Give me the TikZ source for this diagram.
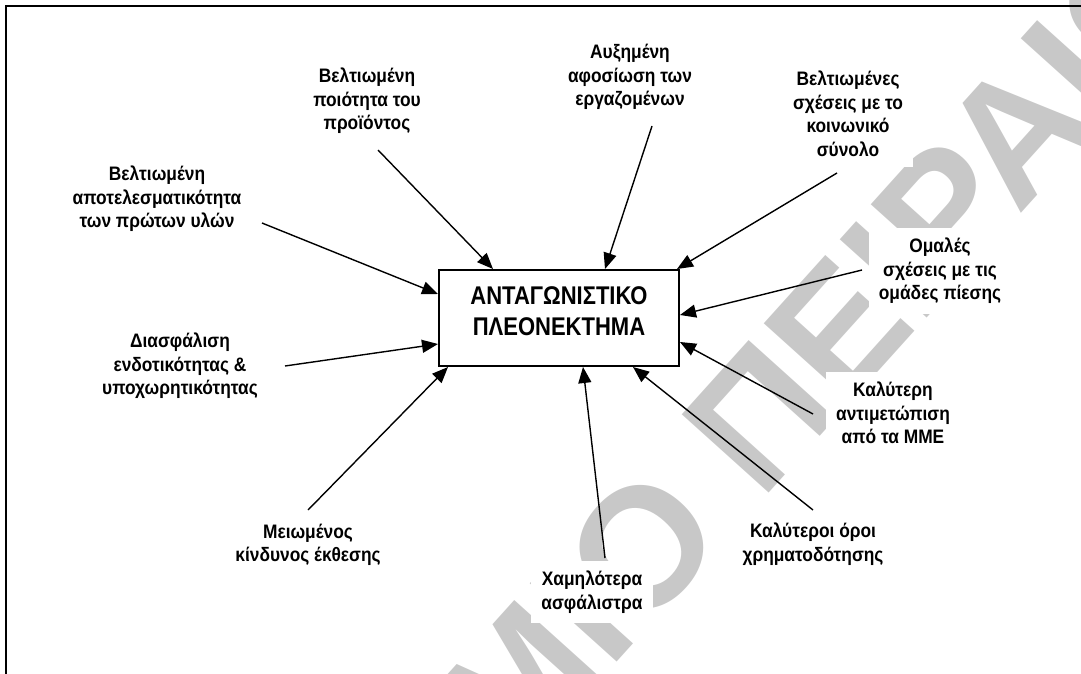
\documentclass[tikz,border=0pt]{standalone}
\usepackage{fontspec}
\setmainfont{Liberation Sans}
\newfontfamily\labelfont[FakeStretch=0.89]{Liberation Sans}
\newfontfamily\titlefont[FakeStretch=0.86]{Liberation Sans}
\usetikzlibrary{arrows.meta}
\definecolor{wmgray}{RGB}{200,200,200}
\begin{document}
\begin{tikzpicture}[x=1pt,y=-1pt,
  lbl/.style={font={\labelfont\bfseries\fontsize{19.5}{23.5}\selectfont}, align=center, fill=white, inner sep=10pt},
  ttl/.style={font={\titlefont\bfseries\fontsize{25.6}{31.5}\selectfont}, align=center, inner sep=0pt},
  centrebox/.style={draw, line width=2pt, minimum width=240pt, minimum height=96pt, inner sep=0pt},
  conn/.style={line width=1.4pt, -{Triangle[length=16pt,width=13pt]}},
  frameline/.style={line width=2pt},
  wm/.style={font={\bfseries\fontsize{170}{170}\selectfont}, text=wmgray, inner sep=0pt, rotate=48}]

\useasboundingbox (0,0) rectangle (1081,674);

% background watermark
\begin{scope}
  \clip (0,0) rectangle (1081,674);
  \node[wm, anchor=base east] (wmfirst) at (730,537) {ΠΑΝΕΠΙΣΤΗΜΙΟ};
  \node[wm, anchor=base west] (wmsecond) at (761,502) {ΠΕΙΡΑΙΩΣ};
\end{scope}

% page frame (top and left edges)
\coordinate (frameBL) at (6,674);
\coordinate (frameTL) at (6,6);
\coordinate (frameTR) at (1081,6);
\draw[frameline] (frameBL) -- (frameTL) -- (frameTR);

% central box
\node[centrebox] (box) at (559,318) {};
\node[ttl] (boxtext) at (559,311) {ΑΝΤΑΓΩΝΙΣΤΙΚΟ\\ΠΛΕΟΝΕΚΤΗΜΑ};

% surrounding factors
\node[lbl] (quality)  at (367,101) {Βελτιωμένη\\ποιότητα του\\προϊόντος};
\node[lbl] (material) at (157,199) {Βελτιωμένη\\αποτελεσματικότητα\\των πρώτων υλών};
\node[lbl] (staff)    at (630,77)  {Αυξημένη\\αφοσίωση των\\εργαζομένων};
\node[lbl] (society)  at (848,114) {Βελτιωμένες\\σχέσεις με το\\κοινωνικό\\σύνολο};
\node[lbl] (pressure) at (940,271) {Ομαλές\\σχέσεις με τις\\ομάδες πίεσης};
\node[lbl] (flex)     at (180,366) {Διασφάλιση\\ενδοτικότητας \&\\υποχωρητικότητας};
\node[lbl] (risk)     at (308,545) {Μειωμένος\\κίνδυνος έκθεσης};
\node[lbl] (premium)  at (592,592) {Χαμηλότερα\\ασφάλιστρα};
\node[lbl] (finance)  at (813,544) {Καλύτεροι όροι\\χρηματοδότησης};
\node[lbl] (media)    at (893,413) {Καλύτερη\\αντιμετώπιση\\από τα ΜΜΕ};

% connector ends
\coordinate (quality-s)  at (378,150);  \coordinate (quality-t)  at (493,269);
\coordinate (material-s) at (262,223);  \coordinate (material-t) at (438,294);
\coordinate (staff-s)    at (652,126);  \coordinate (staff-t)    at (605,269);
\coordinate (society-s)  at (837,173);  \coordinate (society-t)  at (677,269);
\coordinate (pressure-s) at (862,270);  \coordinate (pressure-t) at (680,315);
\coordinate (flex-s)     at (285,366);  \coordinate (flex-t)     at (438,344);
\coordinate (risk-s)     at (308,510);  \coordinate (risk-t)     at (448,367);
\coordinate (premium-s)  at (605,558);  \coordinate (premium-t)  at (583,367);
\coordinate (finance-s)  at (813,510);  \coordinate (finance-t)  at (633,367);
\coordinate (media-s)    at (813,414);  \coordinate (media-t)    at (680,342);

\draw[conn] (quality-s)  -- (quality-t);
\draw[conn] (material-s) -- (material-t);
\draw[conn] (staff-s)    -- (staff-t);
\draw[conn] (society-s)  -- (society-t);
\draw[conn] (pressure-s) -- (pressure-t);
\draw[conn] (flex-s)     -- (flex-t);
\draw[conn] (risk-s)     -- (risk-t);
\draw[conn] (premium-s)  -- (premium-t);
\draw[conn] (finance-s)  -- (finance-t);
\draw[conn] (media-s)    -- (media-t);
\end{tikzpicture}
\end{document}
